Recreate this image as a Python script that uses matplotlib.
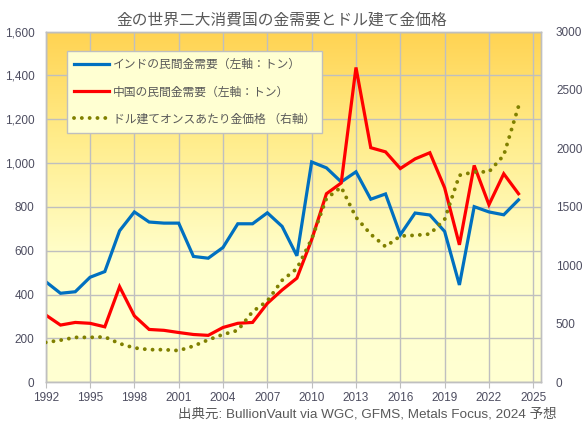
import numpy as np
import matplotlib
matplotlib.use("Agg")
import matplotlib.pyplot as plt
from matplotlib.colors import LinearSegmentedColormap

plt.rcParams['font.family'] = ['Noto Sans CJK JP', 'DejaVu Sans']

years = list(range(1992, 2025))
india = [459, 406, 413, 479, 505, 691, 777, 731, 726, 726, 574, 566, 615, 723, 723,
         773, 711, 577, 1005, 978, 914, 960, 835, 859, 673, 772, 763, 688, 444, 801,
         777, 764, 832]
china = [307, 261, 273, 269, 253, 436, 303, 241, 237, 227, 218, 214, 250, 269, 273,
         360, 421, 475, 650, 860, 909, 1436, 1070, 1051, 975, 1019, 1047, 887, 627,
         989, 810, 951, 860]
gold = [341, 360, 384, 384, 388, 331, 294, 279, 279, 271, 310, 363, 409, 444, 604,
        695, 872, 972, 1225, 1572, 1669, 1411, 1266, 1160, 1251, 1257, 1268, 1393,
        1770, 1799, 1800, 1941, 2360]

xticks = list(range(1992, 2026, 3))
left_ticks = list(range(0, 1601, 200))
right_ticks = list(range(0, 3001, 500))

title = "金の世界二大消費国の金需要とドル建て金価格"
lab_india = "インドの民間金需要（左軸：トン）"
lab_china = "中国の民間金需要（左軸：トン）"
lab_gold = "ドル建てオンスあたり金価格 （右軸）"
source = "出典元: BullionVault via WGC, GFMS, Metals Focus, 2024 予想"

txt = '#595959'
tick_col = '#4d4d60'
grid_col = '#bfbfbf'

fig = plt.figure(figsize=(5.83, 4.28), dpi=100)
ax = fig.add_axes([0.0784, 0.1068, 0.849, 0.8196])
ax2 = ax.twinx()

# gradient background
cmap = LinearSegmentedColormap.from_list('bg', [(0.0, '#FFFFD2'), (0.35, '#FFFFCC'),
                                               (0.7, '#FFEC8A'), (1.0, '#FFD352')])
grad = np.linspace(0, 1, 256).reshape(-1, 1)
ax.imshow(grad, aspect='auto', cmap=cmap, origin='lower',
          extent=[0, 1, 0, 1], transform=ax.transAxes, zorder=0)

ax.set_xlim(1992, 2025.5)
ax.set_ylim(0, 1600)
ax2.set_ylim(0, 3000)

ax.set_xticks(xticks)
ax.set_yticks(left_ticks)
ax2.set_yticks(right_ticks)
ax.set_yticklabels([f"{v:,}" for v in left_ticks])
ax2.set_yticklabels([str(v) for v in right_ticks])

ax.grid(True, color=grid_col, linewidth=1.0, zorder=1)
ax.set_axisbelow(False)

l1, = ax.plot(years, india, color='#0070C0', linewidth=2.3, zorder=3,
              solid_joinstyle='miter')
l2, = ax.plot(years, china, color='#FF0000', linewidth=2.3, zorder=3,
              solid_joinstyle='miter')
l3, = ax2.plot(years, gold, color='#808000', linewidth=2.8,
               linestyle=(0, (0.01, 2.0)), dash_capstyle='round', zorder=3)

for a in (ax, ax2):
    for s in a.spines.values():
        s.set_color(grid_col)
        s.set_linewidth(1.0)
    a.tick_params(colors=tick_col, labelsize=8.5, length=0)
ax.tick_params(axis='x', length=4, color=grid_col, pad=3)
ax.tick_params(axis='y', pad=8)
ax2.tick_params(axis='y', pad=11)
for lab in ax.get_xticklabels() + ax.get_yticklabels() + ax2.get_yticklabels():
    lab.set_family(['Liberation Sans', 'DejaVu Sans'])

ax.set_zorder(ax2.get_zorder() - 1)
ax2.patch.set_visible(False)

leg = ax2.legend([l1, l2, l3], [lab_india, lab_china, lab_gold],
                 loc='upper left', bbox_to_anchor=(0.043, 0.944),
                 frameon=True, fancybox=False, fontsize=8.5,
                 labelcolor=txt, handlelength=3.0, handletextpad=0.3,
                 labelspacing=1.2, borderpad=0.6, borderaxespad=0)
leg.get_frame().set_facecolor('#FFFFD2')
leg.get_frame().set_edgecolor('#bfbfbf')
leg.get_frame().set_alpha(1.0)

fig.text(0.484, 0.953, title, ha='center', va='center', fontsize=11.3, color=txt)
fig.text(0.954, 0.033, source, ha='right', va='center', fontsize=9.7, color=txt,
         family=['Liberation Sans', 'Noto Sans CJK JP'])

fig.savefig('out.png', dpi=100)
